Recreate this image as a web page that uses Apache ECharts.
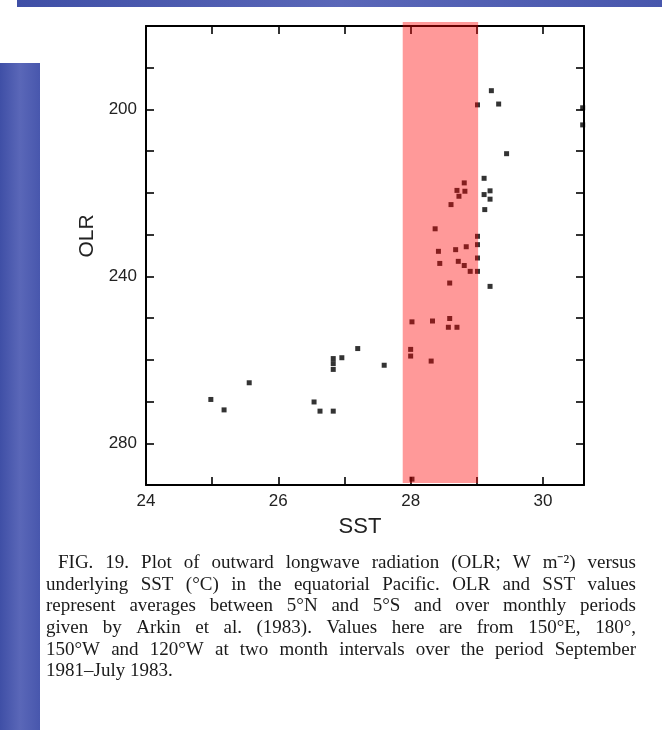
<!DOCTYPE html>
<html><head><meta charset="utf-8">
<script src="https://cdn.jsdelivr.net/npm/echarts@6/dist/echarts.min.js"></script>
<style>html,body{margin:0;padding:0;background:#fff}#c{width:662px;height:730px}</style>
</head><body><div id="c"></div>
<script>
// SST (°C) values of the points
const sst = [24.98, 25.18, 25.56, 26.54, 26.63, 26.83, 26.83, 26.83, 26.83, 26.96, 27.20, 27.60,
  28.00, 28.00, 28.02, 28.33, 28.59, 28.57, 28.70, 28.31, 28.02,
  28.81, 28.70, 28.82, 28.73, 28.61, 28.37, 29.01, 29.01, 28.42, 28.68, 28.84, 29.01,
  28.44, 28.72, 28.81, 28.90, 29.01, 28.59,
  29.11, 29.20, 29.20, 29.12, 29.20, 29.22, 29.33, 29.01, 29.45, 29.11, 30.60, 30.60];
// OLR (W m-2) values of the points
const olr = [269.5, 272.0, 265.5, 270.1, 272.3, 272.3, 259.7, 260.9, 262.3, 259.5, 257.3, 261.3,
  257.5, 259.1, 250.9, 250.7, 250.1, 252.2, 252.2, 260.3, 288.6,
  217.6, 219.4, 219.6, 220.8, 222.8, 228.6, 230.4, 232.4, 234.0, 233.6, 232.9, 235.6,
  236.9, 236.4, 237.4, 238.8, 238.8, 241.6,
  220.4, 219.5, 221.5, 224.0, 242.4, 195.5, 198.7, 198.9, 210.6, 216.5, 199.6, 203.7];
const xTickLabels = [24, 26, 28, 30];
const yTickLabels = [200, 240, 280];
const band = [27.88, 29.02];
const captionLines = [
  "FIG. 19. Plot of outward longwave radiation (OLR; W m\u207B\u00B2) versus",
  "underlying SST (\u00B0C) in the equatorial Pacific. OLR and SST values",
  "represent averages between 5\u00B0N and 5\u00B0S and over monthly periods",
  "given by Arkin et al. (1983). Values here are from 150\u00B0E, 180\u00B0,",
  "150\u00B0W and 120\u00B0W at two month intervals over the period September",
  "1981\u2013July 1983."
];

const chart = echarts.init(document.getElementById('c'), null, {renderer: 'canvas'});
const G = {left: 146, right: 78, top: 26, bottom: 245};
const axisCommon = {
  axisLine: {show: true, onZero: false, lineStyle: {color: '#000', width: 2}},
  axisTick: {show: true, inside: true, length: 8, lineStyle: {color: '#000', width: 1.6}},
  splitLine: {show: false}
};
const lblFont = {fontFamily: 'Liberation Sans', fontSize: 17, color: '#222'};
chart.setOption({
  animation: false,
  backgroundColor: '#fff',
  grid: G,
  xAxis: [
    Object.assign({type: 'value', min: 24, max: 30.62, interval: 1, position: 'bottom',
      axisLabel: Object.assign({margin: 8, showMaxLabel: false,
        formatter: v => xTickLabels.indexOf(v) >= 0 ? String(v) : ''}, lblFont)}, axisCommon),
    Object.assign({type: 'value', min: 24, max: 30.62, interval: 1, position: 'top',
      axisLabel: {show: false}}, axisCommon)
  ],
  yAxis: [
    Object.assign({type: 'value', min: 180, max: 290, interval: 10, inverse: true, position: 'left',
      axisLabel: Object.assign({margin: 9,
        formatter: v => yTickLabels.indexOf(v) >= 0 ? String(v) : ''}, lblFont)}, axisCommon),
    Object.assign({type: 'value', min: 180, max: 290, interval: 10, inverse: true, position: 'right',
      axisLabel: {show: false}}, axisCommon)
  ],
  series: [{
    type: 'scatter', symbol: 'rect', symbolSize: 5,
    itemStyle: {color: '#000'},
    data: sst.map((x, i) => [x, olr[i]])
  }]
});

// caption, justified word by word
const ctx = document.createElement('canvas').getContext('2d');
const capFont = 19;
ctx.font = capFont + 'px "Liberation Serif"';
const capLeft = 46, capRight = 636, capTop = 563, capPitch = 21.7, indent = 12;
const gfx = [];
captionLines.forEach((line, li) => {
  const words = line.split(' ');
  const x0 = capLeft + (li === 0 ? indent : 0);
  const y = capTop + li * capPitch;
  const widths = words.map(w => ctx.measureText(w).width);
  const total = widths.reduce((a, b) => a + b, 0);
  const last = li === captionLines.length - 1;
  const gap = last ? ctx.measureText(' ').width : (capRight - x0 - total) / (words.length - 1);
  let x = x0;
  words.forEach((w, wi) => {
    gfx.push({type: 'text', x: x, y: y, z: 10,
      style: {text: w, fill: '#1a1a1a', font: capFont + 'px "Liberation Serif"', verticalAlign: 'middle'}});
    x += widths[wi] + gap;
  });
});

// axis names
gfx.push({type: 'text', x: 360, y: 527, style: {text: 'SST', fill: '#222',
  font: '22px "Liberation Sans"', align: 'center', verticalAlign: 'middle'}});
gfx.push({type: 'text', x: 87, y: 236, rotation: Math.PI / 2, style: {text: 'OLR', fill: '#222',
  font: '21px "Liberation Sans"', align: 'center', verticalAlign: 'middle'}});

// slide decorations
const blueGrad = {type: 'linear', x: 0, y: 0, x2: 1, y2: 0,
  colorStops: [{offset: 0, color: '#3f4fa6'}, {offset: 0.5, color: '#5a67b8'}, {offset: 1, color: '#4857ad'}]};
gfx.push({type: 'rect', shape: {x: 17, y: 0, width: 645, height: 7}, style: {fill: blueGrad}, z: 0});
gfx.push({type: 'rect', shape: {x: 0, y: 63, width: 40, height: 667}, style: {fill: blueGrad}, z: 0});

// red band over the points
const bx1 = chart.convertToPixel({xAxisIndex: 0}, band[0]);
const bx2 = chart.convertToPixel({xAxisIndex: 0}, band[1]);
gfx.push({type: 'rect', shape: {x: bx1, y: G.top - 4, width: bx2 - bx1, height: (730 - G.bottom - 2) - (G.top - 4)},
  style: {fill: 'rgba(255,0,0,0.4)'}, z: 100});

chart.setOption({graphic: gfx});
</script>
</body></html>
